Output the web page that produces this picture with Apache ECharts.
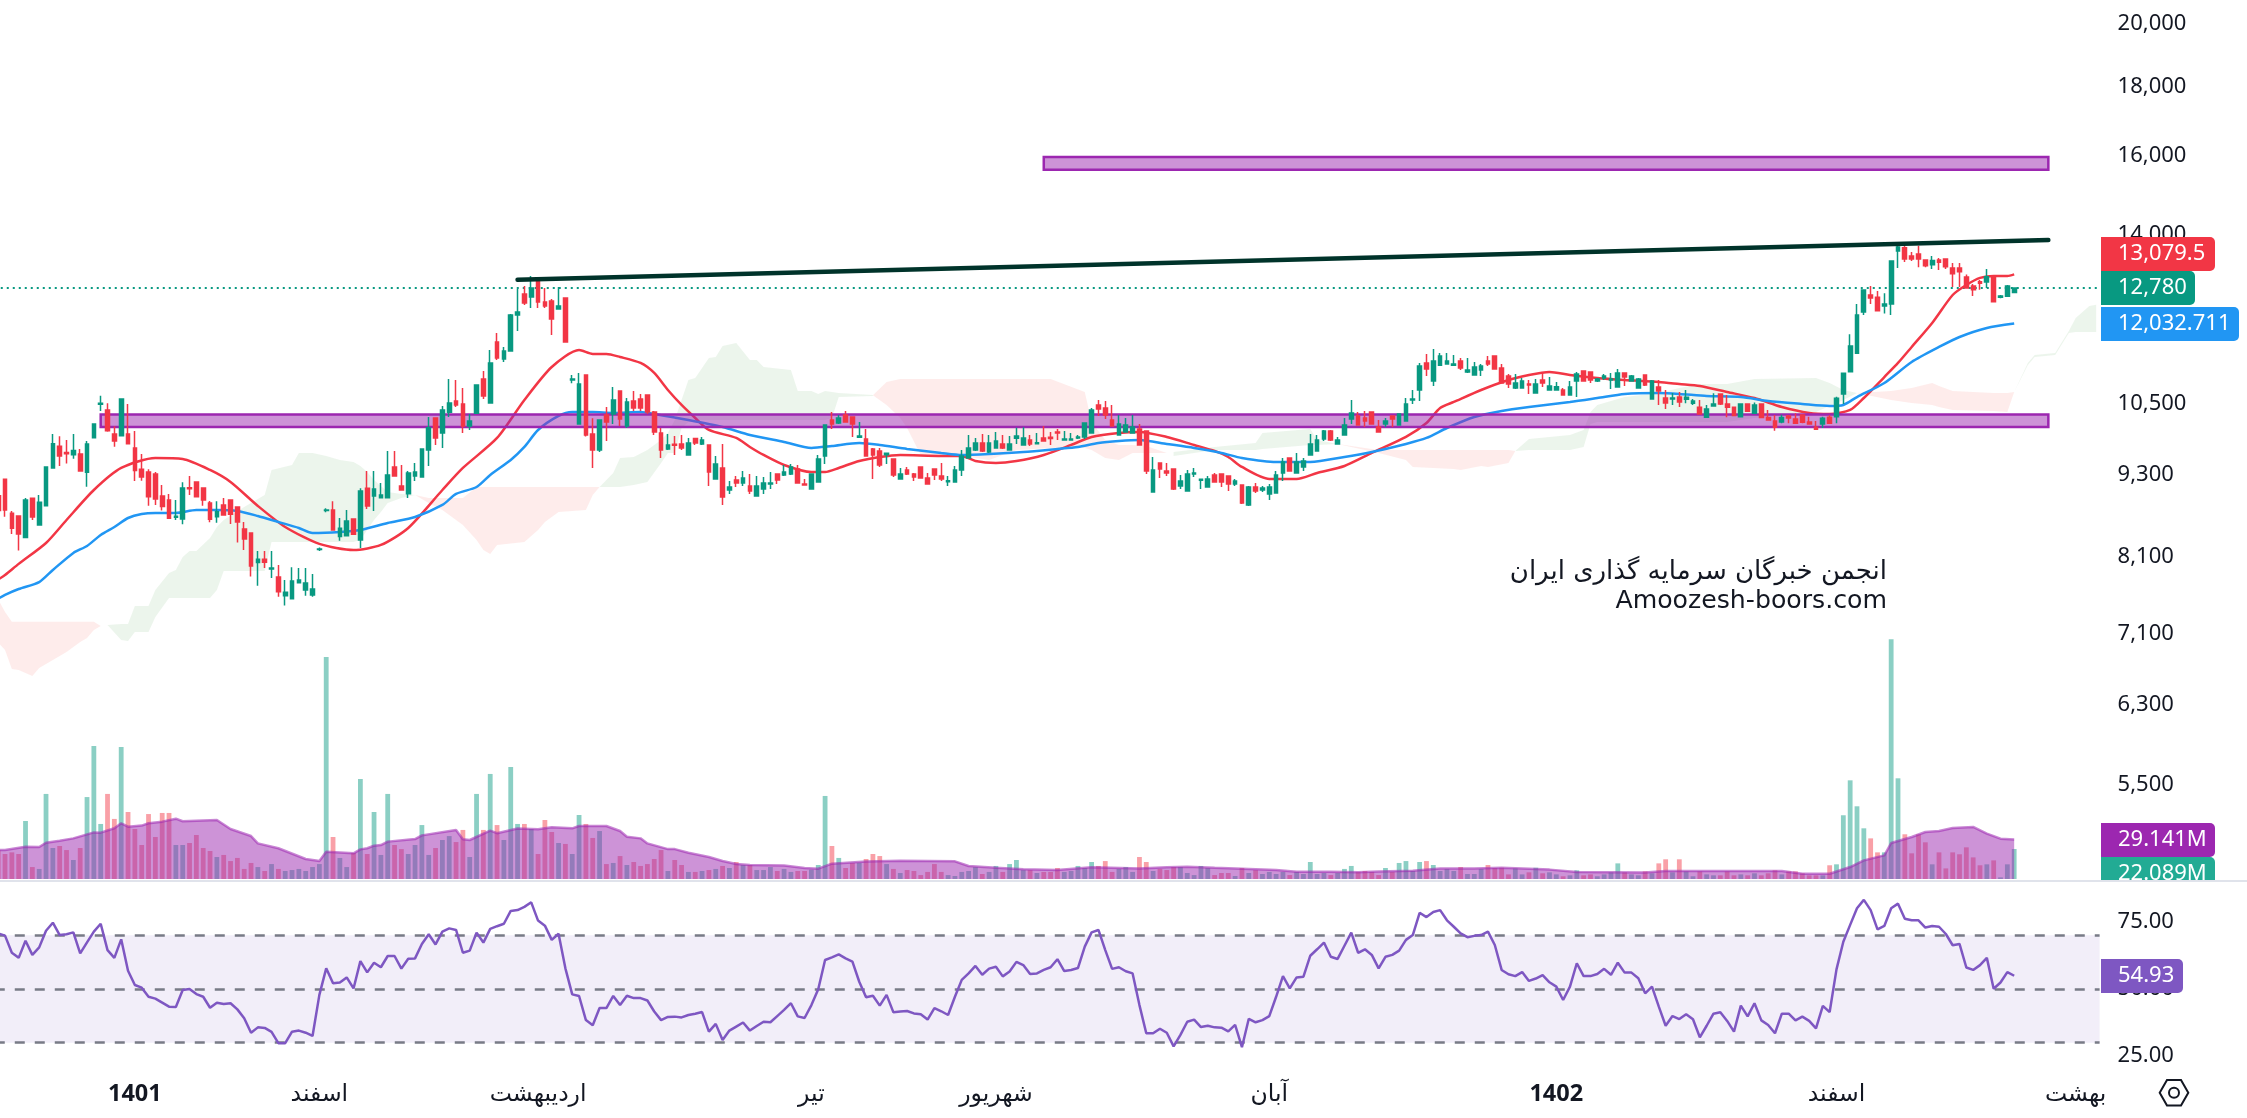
<!DOCTYPE html>
<html><head><meta charset="utf-8">
<style>html,body{margin:0;padding:0;background:#fff}#c{width:2247px;height:1118px}</style>
<script src="https://cdn.jsdelivr.net/npm/echarts@6/dist/echarts.min.js"></script>
</head><body><div id="c"></div>
<script>
// rows: open, close, high, low. The first row is the bar cut off by the left edge.
const ohlcRows=[
[8980,8757,9100,8700],
[9235,8767,9235,8668],[8717,8498,8752,8416],[8678,8416,8678,8182],[8365,8916,8947,8365],[8941,8663,8941,8619],[8546,8881,8993,8546],[8831,9430,9430,8831],[9414,9812,9974,9414],[9767,9607,9935,9446],[9667,9645,9873,9486],
[9629,9700,9974,9564],[9640,9367,9723,9367],[9346,9805,9856,9121],[9912,10145,10145,9912],[10490,10507,10645,10371],[10389,10030,10507,10013],[9974,9856,10105,9761],[9945,10585,10585,9945],[9974,9811,10495,9811],[9739,9373,10025,9209],
[9393,9272,9640,9214],[9351,8967,9393,8831],[9319,8931,9351,8841],[8977,8817,9147,8757],[8916,8643,9008,8633],[8658,8673,8916,8619],[8633,9100,9188,8556],[9105,9090,9288,8993],[9193,8967,9193,8967],[9100,8916,9100,8831],
[8871,8629,8901,8585],[8668,8742,8896,8580],[8841,8692,8947,8682],[8916,8702,8916,8561],[8812,8590,8812,8294],[8488,8346,8590,8191],[8431,7971,8431,7829],[8017,8062,8177,7709],[8062,8021,8177,7944],[7931,7944,8177,7811],
[7824,7631,7985,7566],[7579,7622,7784,7453],[7541,7771,7953,7541],[7749,7784,7944,7749],[7652,7744,7944,7579],[7587,7665,7864,7566],[8196,8205,8224,8177],[8757,8767,8792,8732],[8767,8474,8896,8474],[8379,8498,8648,8322],
[8392,8604,8767,8392],[8633,8412,8633,8412],[8332,9053,9095,8219],[9095,8827,9367,8782],[8977,9085,9367,8752],[8951,8993,9177,8951],[8951,9304,9689,8951],[9430,9288,9689,9288],[9131,9070,9461,9070],[9013,9335,9367,8947],
[9288,9351,9494,9209],[9272,9723,9723,9272],[9706,10082,10267,9446],[10249,9907,10249,9789],[9991,10389,10460,9739],[10348,10513,10951,10267],[10549,10478,10932,10442],[10495,10111,10785,9991],[10111,10197,10320,10042],[10330,10840,10840,10330],
[10951,10639,11101,10585],[10513,11253,11503,10513],[11660,11349,11840,11310],[11330,11483,11562,11272],[11483,12207,12228,11483],[12207,12270,12758,11881],[12650,12458,12823,12416],[12586,12780,13045,12353],[12954,12480,12954,12353],[12480,12395,12780,12353],
[12501,12125,12544,11800],[12332,12395,12802,12332],[12565,11660,12565,11660],[10932,10951,11026,10870],[10145,10858,11064,10145],[11026,9957,11026,9930],[9974,9706,10243,9414],[9706,10214,10214,9673],[10301,10180,10442,9856],[10318,10567,10803,10145],
[10730,10232,10730,10111],[10111,10531,10603,10076],[10549,10424,10730,10371],[10585,10424,10675,10371],[10657,10354,10657,10318],[10354,10008,10371,9957],[9991,9706,10076,9575],[9723,9789,9974,9706],[9800,9784,9941,9624],[9806,9739,9957,9706],
[9624,9823,9907,9624],[9896,9823,9907,9789],[9806,9873,9924,9789],[9789,9351,9789,9131],[9239,9478,9608,9239],[9414,8962,9806,8841],[9070,9116,9209,9008],[9224,9178,9288,9116],[9178,9256,9367,9131],[9131,9054,9319,9008],
[8977,9131,9288,8977],[9085,9178,9272,9008],[9162,9178,9351,9085],[9319,9224,9319,9162],[9304,9351,9461,9288],[9319,9430,9478,9304],[9398,9178,9461,9178],[9162,9147,9240,9147],[9085,9319,9319,9085],[9193,9559,9624,9193],
[9607,10128,10128,9478],[10214,10145,10354,10059],[10162,10249,10301,10145],[10301,10180,10371,10180],[10267,10145,10267,9924],[9919,9941,10180,9907],[9890,9608,10059,9608],[9723,9624,9739,9240],[9689,9461,9739,9430],[9629,9651,9656,9478],
[9559,9304,9559,9272],[9240,9319,9414,9240],[9382,9319,9430,9304],[9319,9272,9335,9209],[9430,9256,9430,9256],[9256,9162,9335,9162],[9398,9304,9398,9224],[9288,9240,9494,9209],[9198,9214,9288,9131],[9193,9382,9446,9193],
[9382,9608,9706,9288],[9575,9739,9957,9575],[9706,9823,9907,9689],[9823,9689,9974,9673],[9673,9823,9957,9656],[9739,9856,10008,9739],[9806,9739,9957,9723],[9706,9806,9941,9706],[9901,9941,10082,9806],[9789,9907,10088,9789],
[9873,9806,9957,9773],[9811,9828,9991,9806],[9907,9856,10111,9856],[9918,9896,10008,9789],[10008,9991,10059,9873],[9873,9890,10025,9873],[9873,9890,9991,9873],[9907,9924,9957,9890],[9924,10163,10163,9890],[9991,10389,10424,9991],
[10478,10407,10567,10284],[10424,10301,10549,10232],[10214,10111,10478,10111],[9957,10145,10301,9957],[10008,10128,10249,10008],[9991,10094,10301,9991],[10059,9789,10145,9789],[10025,9367,10025,9319],[9039,9382,9592,9039],[9494,9398,9494,9256],
[9367,9335,9494,9288],[9398,9085,9398,9070],[9131,9209,9304,9085],[9054,9319,9382,9054],[9319,9335,9414,9272],[9219,9235,9235,9085],[9116,9240,9288,9116],[9304,9193,9335,9193],[9319,9193,9319,9116],[9288,9162,9288,9054],
[9162,9209,9240,9131],[9147,8871,9147,8857],[8841,9116,9131,8827],[9116,9054,9178,9023],[9070,9100,9131,9039],[9008,9116,9162,8916],[9023,9304,9367,9023],[9335,9510,9575,9209],[9575,9367,9575,9367],[9335,9510,9656,9335],
[9430,9527,9575,9367],[9624,9806,9974,9624],[9689,9873,9957,9689],[9890,10025,10042,9856],[10025,9873,10042,9856],[9806,9873,9924,9806],[9957,10128,10249,9957],[10232,10336,10567,10145],[10284,10128,10354,10128],[10249,10197,10371,10094],
[10354,10145,10354,10145],[10094,10008,10214,10008],[10145,10197,10249,10094],[10284,10232,10284,10094],[10128,10318,10318,10128],[10197,10495,10603,10197],[10567,10585,10748,10495],[10748,11195,11253,10549],[11253,11138,11425,11007],[10914,11290,11522,10821],
[11208,11387,11445,11208],[11234,11290,11445,11234],[11208,11234,11405,11195],[11290,11157,11347,11120],[11082,11120,11347,11064],[11026,11176,11272,11026],[11120,11195,11234,11007],[11290,11234,11387,11195],[11387,11138,11387,11138],[11157,10877,11234,10877],
[11007,10858,11045,10785],[10785,10877,11045,10767],[10785,10914,10970,10785],[10858,10840,10932,10675],[10693,10858,10951,10693],[10932,10877,11082,10803],[10748,10821,10988,10748],[10748,10809,10895,10748],[10748,10657,10785,10657],[10657,10803,10914,10657],
[10914,11045,11082,10621],[11101,10914,11101,10914],[11082,10932,11082,10877],[10914,10951,10970,10895],[10970,11007,11045,10932],[10932,10951,11064,10767],[10803,11064,11138,10803],[11064,10988,11064,10821],[10914,11007,11026,10914],[10785,10951,10970,10785],
[11026,10840,11026,10821],[10585,10914,10932,10585],[10803,10730,10932,10478],[10603,10513,10748,10407],[10585,10603,10693,10478],[10621,10531,10711,10442],[10580,10616,10748,10507],[10507,10549,10585,10478],[10436,10318,10567,10318],[10260,10407,10478,10260],
[10460,10495,10687,10460],[10675,10495,10675,10478],[10495,10436,10657,10260],[10436,10290,10436,10290],[10272,10495,10495,10272],[10495,10365,10495,10365],[10330,10478,10520,10330],[10495,10255,10495,10255],[10255,10214,10390,10214],[10197,10088,10300,10030],
[10180,10255,10306,10157],[10284,10249,10300,10157],[10232,10157,10330,10157],[10300,10174,10300,10157],[10180,10145,10272,10145],[10088,10053,10197,10053],[10145,10243,10272,10076],[10260,10157,10300,10157],[10272,10597,10627,10157],[10675,11057,11057,10495],
[11088,11581,11813,11088],[11438,12207,12437,11438],[12270,12737,12737,12207],[12629,12565,12824,12437],[12580,12298,12715,12298],[12395,12437,12664,12240],[12437,13379,13379,12207],[13609,13701,13748,13221],[13682,13425,13748,13356],[13493,13425,13585,13379],
[13540,13425,13732,13240],[13403,13271,13403,13240],[13292,13388,13493,13199],[13403,13350,13447,13178],[13425,13249,13425,13199],[13221,13095,13335,12803],[13221,13136,13335,12803],[13020,12780,13075,12780],[12824,12742,12865,12607],[12918,12882,12955,12742],
[12911,13028,13199,12780],[13043,12487,13043,12487],[12580,12607,12628,12558],[12600,12824,12846,12600],[12680,12780,12780,12680]];

const volumes=[
21,
18.4,19.6,18.4,42.7,8.8,7.4,62.6,22.8,24.3,21.3,14,22.8,60.3,97.9,40.5,62.6,44.2,97.1,49.3,36.8,25,47.8,30.9,48.6,48.6,25,25,26.5,32.4,22.8,20.6,16.2,17.7,13.2,15.5,7.4,11.8,8.8,5.9,11,7.4,5.9,6.6,7.4,5.9,8.8,11,163.4,30.9,15.5,
8.8,19.1,73.6,18.4,49.3,17.7,62.6,25,22,18.4,25,39.7,17.7,22.8,28.7,31.6,27.2,36.1,16.2,62.6,36.1,77.3,39.7,28.7,82.4,40.5,40.5,36.8,18.4,43.4,34.6,26.5,25.8,18.4,47.1,40.5,30.2,35.3,11,11.8,16.9,10.3,12.5,9.6,11,14.7,21.3,5.9,14,10.3,
5.2,5.2,5.9,6.6,7.4,9.6,8.1,12.5,10.3,10.3,6.6,6.6,8.8,5.9,7.4,5.2,5.9,5.9,6.9,10.3,61.1,24.3,15.5,8.1,11.8,11.8,14.7,18.4,16.9,11,7.4,4.4,6.6,5.9,2.9,5.2,11,5.2,2.9,2.2,5.2,5.9,8.8,3.7,5.2,9.6,5.2,11,14,6.6,
6.6,4.4,5.2,5.2,8.1,5.2,5.9,9.6,8.1,12.5,9.6,13.2,5.2,7.4,8.8,5.2,16.2,12.5,5.9,7.4,6.6,8.8,8.8,4.4,2.9,9.6,8.1,2.9,4.4,4.4,2.2,8.1,4.4,6.6,3.7,5.2,3.7,5.2,2.9,5.2,3.7,12.5,3.7,4.4,2.9,4.4,7.4,9.6,5.2,5.9,
5.2,2.9,8.1,5.2,11.8,13.2,5.9,12.5,13.2,10.3,5.9,7.4,5.9,8.8,3.7,3.7,7.4,10.3,8.1,8.3,3.4,7.8,3.4,4.9,8.3,4.2,4.9,3.4,2,2.7,6.4,2.7,3.4,2,3.4,4.9,11.5,4.9,3.4,2.7,5.6,4.2,11.5,14.5,4.9,14.5,5.6,2,5.6,3.4,
2.7,2.7,5.6,2.7,3.4,2.7,4.2,2.7,4.2,6.4,3.4,5.6,5.6,4.2,2.7,2.7,2.7,10.1,10.8,46.9,72.6,53.5,37.3,29.9,19.6,19.6,176.4,74.1,32.9,18.9,32.9,27,10.8,19.6,7.8,19.6,18.2,23.3,15.9,10.1,10.8,13.7,1.2,10.8,22.089];

const rsiValues=[
70.7,
69.9,63.5,61.6,68,62.7,65.5,71.7,74.7,70.1,70.4,71.1,63.3,67.4,71.4,74.3,64.5,61.6,68.5,56.8,51.5,50.5,47.1,46.4,44.9,43.4,43.3,49.6,50,48.1,47.1,43,44.9,44.4,44.7,42.4,39.1,33.7,35.7,35.5,34,29.8,29.8,34.1,34.5,33.7,32.5,47.8,57.7,52.1,52.4,
54.3,50.2,60.4,56.2,59.8,58.1,62.3,62.3,57.6,61.3,61.4,66.8,70.4,66.6,71.4,72.6,72,63.5,64.3,71,67.3,72.4,73.4,74.3,79.1,79.4,80.6,82.3,75.5,73.6,68.3,70.6,57.7,48,47.4,38.4,36.5,42.9,42.9,47.4,44,47.5,46.6,46.6,45.7,41.6,38.4,39.6,39.7,39.4,
40.3,40.8,41.4,34.1,37,31,34.5,36,37.5,34.5,36.2,37.8,37.6,39.9,42.2,44.7,39.8,39.2,44,49.9,60.8,61.8,62.9,61.4,60.2,52.7,46.9,47.5,43.8,47.8,41.3,41.6,41.8,40.9,40.6,38.6,42.9,41.7,40.3,47.1,53.4,55.8,58.6,55.3,57.6,58.3,54.7,56.5,60.1,58.9,
55.6,55.8,57.1,58.1,61.1,56.7,57.1,57.8,65.8,71.1,72,64.5,57.5,58.1,56.6,55.8,44,33.5,33.5,35.2,33.7,28.6,32.9,37.8,38.6,35.8,36.3,35.7,35.6,34.2,36.6,28.3,38.9,37.6,38.4,39.9,47.1,54.8,50.2,54.3,54.6,62.4,64.8,67.3,62,61.2,66.1,71,63.5,64.8,
62.7,57.7,62,62.7,64.3,68.3,70.1,78.4,76.8,78.7,79.4,75.6,73.2,70.7,69.3,69.8,70.1,71.4,66.4,57.1,55.5,54.8,56.3,53,53.9,55.2,52.5,50.9,45.9,50.9,59.6,54.8,54.8,55.6,57.5,55.3,59.8,56.1,56.1,54,48.4,50.9,43.4,36.3,39.9,38.8,40.6,38.7,32,36.3,
40.8,41.3,38.1,34.1,43.8,39.8,44.7,38.3,36.6,33.5,40.8,40.8,38.3,39.7,38.1,35.3,43.7,41.4,57.3,67.6,73.9,80.1,83.2,79.4,72.2,73.5,80.1,81.8,76.2,75.6,75.6,72.9,73.5,73.2,70.5,66.3,66.8,58,57.1,58.9,61.6,50.1,52.4,56.3,54.93];

// [bar number, value] readings; bar number -1 is the bar cut off by the left edge
const ma20Points=[[-1,7790],[0,7850],[2,8000],[6,8289],[9,8619],[13,9069],[17,9415],[22,9576],[26,9559],[30,9383],[33,9194],[37,8827],[41,8517],[46,8276],[51,8191],[55,8261],[59,8503],[64,9069],[67,9415],[72,9907],[76,10567],[80,11176],[84,11503],[86,11426],[88,11426],[90,11368],[93,11253],[95,11063],[97,10748],[99,10478],[101,10249],[103,10042],[107,9907],[109,9757],[111,9625],[114,9463],[118,9351],[120,9351],[122,9415],[125,9527],[128,9592],[131,9625],[137,9609],[140,9609],[142,9527],[145,9495],[148,9527],[152,9625],[156,9790],[159,9924],[163,9992],[166,10009],[170,9924],[174,9790],[177,9691],[179,9592],[181,9431],[185,9241],[189,9241],[192,9335],[196,9447],[200,9658],[205,9924],[208,10162],[210,10424],[212,10531],[216,10748],[220,10932],[223,11025],[226,11081],[229,11025],[233,10969],[237,10932],[242,10895],[245,10858],[248,10821],[252,10711],[256,10602],[260,10442],[264,10337],[267,10319],[270,10389],[272,10602],[275,10987],[277,11253],[279,11562],[282,12043],[285,12628],[287,12844],[289,13000],[291,13045],[293,13045],[294,13079.5]];
const ma50Points=[[-1,7540],[0,7590],[2,7666],[5,7757],[7,7917],[10,8150],[12,8247],[14,8402],[16,8517],[18,8648],[20,8708],[22,8723],[25,8723],[28,8767],[31,8767],[34,8752],[37,8678],[40,8590],[43,8503],[45,8431],[49,8445],[52,8474],[56,8576],[60,8663],[64,8842],[66,9008],[69,9115],[71,9304],[74,9543],[76,9757],[78,10042],[81,10284],[83,10354],[86,10354],[89,10337],[93,10354],[95,10319],[100,10214],[105,10094],[109,9958],[114,9840],[118,9740],[121,9773],[125,9823],[128,9790],[132,9724],[137,9658],[140,9625],[144,9641],[149,9674],[154,9724],[157,9757],[160,9823],[163,9856],[166,9873],[170,9807],[174,9740],[178,9658],[181,9576],[186,9511],[191,9511],[196,9592],[200,9674],[205,9807],[208,9907],[211,10076],[215,10266],[219,10372],[223,10442],[229,10531],[233,10602],[237,10676],[242,10693],[245,10676],[249,10639],[254,10620],[258,10549],[263,10496],[267,10460],[269,10478],[271,10620],[275,10876],[279,11272],[283,11562],[286,11760],[290,11941],[294,12032.711]];
const volMaPoints=[[-1,21.3],[0,21.3],[3,23.8],[5,23.5],[6,26.7],[8,28.2],[10,29.9],[13,34.3],[14,34.1],[16,37.3],[17,41],[18,38.5],[20,39.3],[21,41],[23,42.2],[25,44.4],[26,42.5],[31,43.4],[33,36.8],[36,31.6],[37,26.2],[40,22.6],[44,14.7],[46,13.2],[47,20],[51,18.9],[52,21.8],[53,22.6],[54,24.5],[55,25],[56,27.5],[60,29.4],[61,32.1],[66,36.1],[67,29.2],[68,28.7],[71,35.6],[72,33.7],[75,37.1],[78,36.6],[80,38],[83,37.3],[84,39],[88,39],[90,35.3],[91,31.1],[93,29.9],[94,26.2],[97,22],[98,22],[100,19.3],[103,16.2],[105,13.2],[107,11],[109,10.3],[114,10],[117,8.1],[119,7.6],[121,11.3],[126,12.8],[131,13.5],[139,13],[141,9.6],[145,8.3],[149,7.1],[154,6.6],[159,8.6],[166,7.8],[170,8.6],[173,9.1],[177,8.3],[182,7.4],[186,6.6],[189,5.4],[194,5.4],[198,4.9],[201,5.6],[206,6.1],[210,7.8],[215,7.8],[219,8.3],[226,6.9],[230,5.2],[240,4.7],[243,5.9],[250,5.9],[260,5.9],[263,3.9],[267,3.9],[270,8.8],[272,13.7],[275,17.4],[276,26.5],[279,30.9],[281,34.6],[283,35.3],[285,37.5],[288,38.3],[290,33.4],[292,29.7],[294,29.141]];

// cloud pieces: rows of bar number, upper value, lower value
const cloudRedA=[[-1,7530,7000],[0,7373,6912],[1,7250,6693],[2,7250,6681],[4,7250,6613],[5,7250,6704],[7,7250,6796],[9,7250,6889],[11,7250,7006],[12,7250,7054],[13,7250,7151],[14,7200,7200]];
const cloudGreenB=[[15,7212,7212],[17,7225,7030],[18,7225,7018],[19,7449,7127],[21,7449,7127],[22,7653,7311],[24,7877,7550],[25,7917,7550],[26,8094,7550],[27,8177,7550],[28,8177,7550],[30,8360,7550],[31,8517,7653],[32,8619,7904],[35,8812,7904],[38,8993,7904],[39,9383,8303],[42,9463,8303],[43,9658,8303],[45,9658,8303],[47,9609,8303],[49,9543,8303],[51,9511,8303],[52,9447,8331],[53,9351,8474],[54,9225,8619],[55,9131,8737],[56,9039,8872],[58,9008,8947],[60,8993,8993]];
const cloudRedC=[[60,8993,8993],[62,8947,8872],[64,8947,8767],[67,8947,8546],[69,9115,8331],[70,9115,8191],[71,9115,8136],[72,9115,8261],[76,9115,8303],[78,9115,8474],[79,9115,8590],[81,9115,8737],[85,9115,8767],[86,9115,8993],[87,9115,9115]];
const cloudGreenD=[[87,9115,9115],[89,9335,9115],[90,9576,9115],[92,9592,9147],[94,9707,9194],[96,9873,9495],[97,9992,9658],[98,10214,9658],[99,10567,10076],[100,10932,10180],[101,10969,10214],[103,11349,10214],[104,11368,10214],[105,11581,10214],[107,11641,10214],[109,11310,10214],[110,11310,10214],[111,11176,10214],[115,11119,10214],[116,10730,10214],[118,10730,10214],[119,10676,10214],[120,10730,10214],[121,10711,10249],[122,10693,10620],[127,10657,10639]];
const cloudRedE=[[127,10650,10650],[129,10895,10478],[131,10950,10249],[132,10950,10076],[134,10950,9625],[140,10950,9609],[144,10950,9543],[148,10950,9707],[153,10950,9740],[158,10711,9740],[159,10180,9707],[161,9873,9576],[163,9790,9543],[165,9790,9658],[167,9773,9658],[170,9658,9658]];
const cloudGreenF=[[171,9674,9609],[177,9757,9707],[183,9823,9707],[184,9992,9724],[191,10059,9790],[192,9873,9790],[195,9807,9807]];
const cloudRedG=[[195,9807,9807],[201,9707,9658],[205,9707,9543],[206,9707,9431],[212,9707,9399],[213,9707,9383],[216,9707,9447],[217,9707,9431],[220,9707,9495],[221,9691,9691]];
const cloudGreenH=[[221,9691,9691],[223,9890,9707],[226,9924,9707],[229,9958,9707],[231,10042,9757],[232,10354,10145],[233,10478,10180],[237,10620,10180],[242,10693,10180],[245,10785,10180],[248,10858,10180],[252,10858,10180],[256,10950,10249],[265,10969,10354],[267,10876,10460],[269,10748,10567],[271,10693,10693]];
const cloudRedI=[[271,10693,10693],[276,10730,10567],[279,10785,10514],[282,10876,10478],[283,10821,10442],[285,10730,10389],[291,10693,10372],[293,10693,10354],[294,10711,10711]];
const cloudGreenJ=[[294,10711,10711],[296,11253,11215],[297,11406,11368],[300,11445,11406],[302,11880,11840],[303,12147,11860],[305,12395,11860],[306,12420,11860]];

const priceTicks=[5500,6300,7100,8100,9300,10500,14000,16000,18000,20000];
const rsiTicks=[25,50,75];
const rsiGuides=[70,50,30];
const slotCount=308;
const axisMarks={19:'1401',46:'اسفند',78:'اردیبهشت',118:'تیر',145:'شهریور',185:'آبان',227:'1402',268:'اسفند',303:'بهشت'};
const boldMarks=['1401','1402'];
const zoneLow=[14,10310,299,10094];
const zoneHigh=[152,15964,299,15620];
const trendLine=[[75,12961],[299,13865]];
const lastPrice=12780;

const GREEN='#089981',RED='#f23645',PURPLE='#9c27b0',RSI='#7e57c2',INK='#131722';
const FONT='"Noto Sans","DejaVu Sans",sans-serif';
const FS=22,TAGFS=22,XFS=23.5;
const slot=n=>n+1;   // bar number to category slot
const categories=Array.from({length:slotCount},(_,i)=>axisMarks[i-1]||'');
const candleData=ohlcRows.map(r=>[r[0],r[1],r[3],r[2]]);
const volumeData=volumes.map((v,i)=>({value:v,itemStyle:{color:ohlcRows[i][1]>=ohlcRows[i][0]?'rgba(8,153,129,0.47)':'rgba(242,54,69,0.47)'}}));
const atSlots=pts=>pts.map(p=>[slot(p[0]),p[1]]);

const cloudPieces=[[cloudRedA,0],[cloudGreenB,1],[cloudRedC,0],[cloudGreenD,1],[cloudRedE,0],[cloudGreenF,1],[cloudRedG,0],[cloudGreenH,1],[cloudRedI,0],[cloudGreenJ,1]];
function renderCloud(params,api){
  const [rows,green]=cloudPieces[params.dataIndex];
  const up=rows.map(r=>api.coord([slot(r[0]),r[1]]));
  const dn=rows.slice().reverse().map(r=>api.coord([slot(r[0]),r[2]]));
  return {type:'polygon',shape:{points:up.concat(dn)},style:{fill:green?'rgba(67,160,71,0.1)':'rgba(244,67,54,0.1)'},silent:true};
}
function tag(y,h,w,color,text){
  return [{type:'rect',z:100,shape:{x:2101,y:y,width:w,height:h,r:[0,5,5,0]},style:{fill:color}},
          {type:'text',z:101,x:2118,y:y+h/2,style:{text:text,fill:'#fff',font:TAGFS+'px '+FONT,verticalAlign:'middle'}}];
}
const xBase={type:'category',data:categories,boundaryGap:true,axisLine:{show:false},axisTick:{show:false},splitLine:{show:false}};
const hiddenX=i=>Object.assign({},xBase,{gridIndex:i,axisLabel:{show:false}});
const GL=-5.233,GW=2104.833;
const option={
  animation:false,backgroundColor:'#fff',
  grid:[
    {left:GL,top:0,width:GW,height:880,outerBoundsMode:'none'},
    {left:GL,top:600,width:GW,height:279,outerBoundsMode:'none'},
    {left:GL,top:883,width:GW,height:187,outerBoundsMode:'none'}],
  xAxis:[hiddenX(0),hiddenX(1),Object.assign({},xBase,{gridIndex:2,axisLabel:{
      show:true,interval:(i,v)=>v!=='',margin:12,color:INK,fontSize:XFS,fontFamily:FONT,
      formatter:v=>boldMarks.includes(v)?'{b|'+v+'}':v,rich:{b:{fontWeight:'bold',fontSize:XFS,fontFamily:FONT,color:INK}}}})],
  yAxis:[
    {type:'log',logBase:10,gridIndex:0,position:'right',min:4677,max:20840,splitLine:{show:false},axisLine:{show:false},axisTick:{show:false},
     axisLabel:{customValues:priceTicks,margin:18,color:INK,fontSize:FS,fontFamily:FONT,align:'left',padding:[2,0,0,0],formatter:v=>Math.round(v).toLocaleString('en-US')}},
    {type:'value',gridIndex:1,min:0,max:205.3,show:false},
    {type:'value',gridIndex:2,position:'right',min:19.81,max:89.5,splitLine:{show:false},axisLine:{show:false},axisTick:{show:false},
     axisLabel:{customValues:rsiTicks,margin:18,color:INK,fontSize:FS,fontFamily:FONT,align:'left',padding:[4,0,0,0],formatter:v=>v.toFixed(2)}}],
  series:[
    {type:'custom',name:'cloud',xAxisIndex:0,yAxisIndex:0,z:1,renderItem:renderCloud,data:cloudPieces.map(p=>[slot(p[0][0][0]),p[0][0][1]]),encode:{x:0,y:1},clip:true,silent:true},
    {type:'line',name:'MA20',xAxisIndex:0,yAxisIndex:0,z:2,data:atSlots(ma20Points),showSymbol:false,smooth:0.25,lineStyle:{color:RED,width:2.5},
     markLine:{z:2,silent:true,symbol:'none',label:{show:false},lineStyle:{color:GREEN,type:[2,4],width:2.2},data:[{yAxis:lastPrice}]}},
    {type:'line',name:'MA50',xAxisIndex:0,yAxisIndex:0,z:2,data:atSlots(ma50Points),showSymbol:false,smooth:0.25,lineStyle:{color:'#2196f3',width:2.5}},
    {type:'candlestick',name:'price',xAxisIndex:0,yAxisIndex:0,z:4,data:candleData,barWidth:4.2,
     itemStyle:{color:GREEN,color0:RED,borderColor:GREEN,borderColor0:RED,borderWidth:1.5},
     markArea:{z:3,silent:true,itemStyle:{color:'rgba(156,39,176,0.5)',borderColor:PURPLE,borderWidth:2.5},
       data:[[{coord:[slot(zoneLow[0]),zoneLow[1]]},{coord:[slot(zoneLow[2]),zoneLow[3]]}],[{coord:[slot(zoneHigh[0]),zoneHigh[1]]},{coord:[slot(zoneHigh[2]),zoneHigh[3]]}]]},
     markLine:{z:5,silent:true,symbol:'none',label:{show:false},lineStyle:{color:'#00332a',width:4.5,type:'solid',cap:'round'},
       data:[[{coord:[slot(trendLine[0][0]),trendLine[0][1]]},{coord:[slot(trendLine[1][0]),trendLine[1][1]]}]]}},
    {type:'bar',name:'volume',xAxisIndex:1,yAxisIndex:1,z:2,data:volumeData,barWidth:4.8},
    {type:'line',name:'volume MA',xAxisIndex:1,yAxisIndex:1,z:3,data:atSlots(volMaPoints),showSymbol:false,lineStyle:{color:PURPLE,width:2.5,opacity:0.55},areaStyle:{color:'rgba(156,39,176,0.5)',opacity:1}},
    {type:'line',name:'RSI',xAxisIndex:2,yAxisIndex:2,z:3,data:rsiValues,showSymbol:false,lineStyle:{color:RSI,width:2.5},
     markArea:{z:1,silent:true,itemStyle:{color:'rgba(126,87,194,0.1)'},data:[[{yAxis:rsiGuides[2]},{yAxis:rsiGuides[0]}]]},
     markLine:{z:2,silent:true,symbol:'none',label:{show:false},lineStyle:{color:'#787b86',width:2.5,type:[10,10]},data:rsiGuides.map(v=>({yAxis:v}))}}
  ],
  graphic:{elements:[].concat(
    [{type:'text',z:50,x:1887,y:572,style:{text:'انجمن خبرگان سرمایه گذاری ایران',fill:INK,font:'26px "DejaVu Sans",sans-serif',align:'right',verticalAlign:'middle'}},
     {type:'text',z:50,x:1887,y:601,style:{text:'Amoozesh-boors.com',fill:INK,font:'25.2px "DejaVu Sans",sans-serif',align:'right',verticalAlign:'middle'}}],
    tag(237,34,114,'#f23645','13,079.5'),
    tag(271,34,94,GREEN,'12,780'),
    tag(307,34,138,'#2196f3','12,032.711'),
    tag(823,34,114,PURPLE,'29.141M'),
    tag(857,34,114,'#22ab94','22.089M'),
    [{type:'rect',z:110,shape:{x:2100,y:882,width:147,height:30},style:{fill:'#fff'}},
     {type:'rect',z:111,shape:{x:0,y:880,width:2247,height:2},style:{fill:'#e0e3eb'}}],
    tag(959,34,82,RSI,'54.93'),
    [{type:'polygon',z:100,shape:{points:[[2159.7,1092.7],[2167,1079.9],[2181,1079.9],[2188.3,1092.7],[2181,1105.5],[2167,1105.5]]},style:{fill:'none',stroke:INK,lineWidth:2}},
     {type:'circle',z:100,shape:{cx:2174,cy:1092.7,r:5},style:{fill:'none',stroke:INK,lineWidth:2}}]
  )}
};
const chart=echarts.init(document.getElementById('c'),null,{renderer:'canvas'});
chart.setOption(option);
</script></body></html>
